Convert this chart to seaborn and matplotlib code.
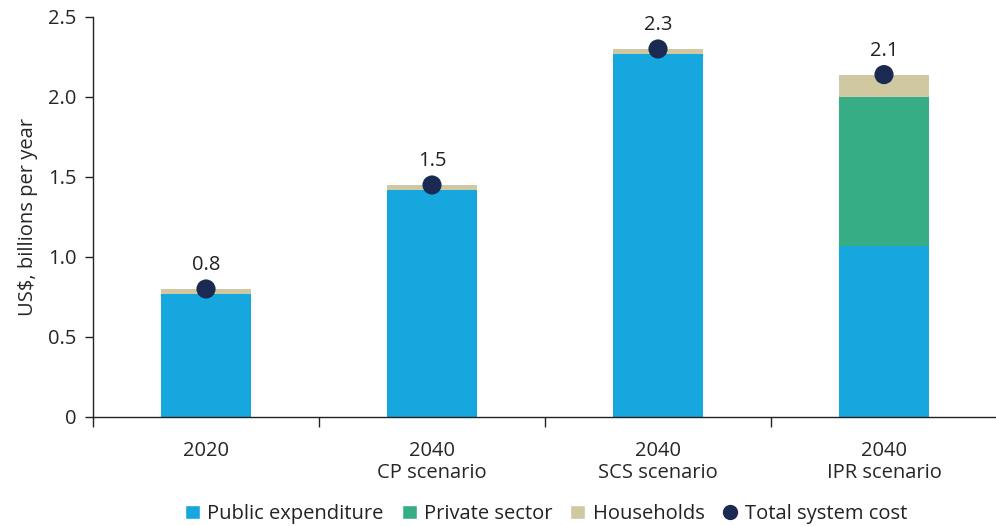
import matplotlib
matplotlib.use("Agg")
import matplotlib.pyplot as plt
import numpy as np
import seaborn as sns
from matplotlib.lines import Line2D
from matplotlib.patches import Patch

categories = ["2020\n", "2040\nCP scenario", "2040\nSCS scenario", "2040\nIPR scenario"]
public = [0.77, 1.42, 2.27, 1.07]
private = [0.0, 0.0, 0.0, 0.93]
households = [0.03, 0.03, 0.03, 0.14]
totals = [0.80, 1.45, 2.30, 2.14]
total_labels = ["0.8", "1.5", "2.3", "2.1"]
y_ticks = [0, 0.5, 1.0, 1.5, 2.0, 2.5]
y_ticklabels = ["0", "0.5", "1.0", "1.5", "2.0", "2.5"]

C_PUBLIC = "#16a7df"
C_PRIVATE = "#37ad85"
C_HOUSE = "#cfc8a0"
C_DOT = "#1b2a52"
FS = 14.5

sns.set_theme(style="white")
plt.rcParams["font.family"] = ["Open Sans", "DejaVu Sans"]
plt.rcParams["text.color"] = "#222222"

fig = plt.figure(figsize=(9.96, 5.26), dpi=100)
ax = fig.add_axes([93 / 996, (526 - 417) / 526, 904 / 996, 400 / 526])

pub = np.array(public)
priv = np.array(private)
x = np.arange(len(categories))

bar_kw = dict(width=0.4, saturation=1, linewidth=0, ax=ax)
sns.barplot(x=x, y=public, color=C_PUBLIC, **bar_kw)
sns.barplot(x=x, y=private, bottom=pub, color=C_PRIVATE, **bar_kw)
sns.barplot(x=x, y=households, bottom=pub + priv, color=C_HOUSE, **bar_kw)
sns.scatterplot(x=x, y=totals, color=C_DOT, s=190, edgecolor="none", zorder=5, ax=ax)

for xi, t, lab in zip(x, totals, total_labels):
    ax.annotate(lab, (xi, t), xytext=(0, 10), textcoords="offset points",
                ha="center", va="bottom", fontsize=FS, color="#222222")

ax.set_xlim(-0.5, 3.5)
ax.set_ylim(0, 2.5)
ax.set_xticks(x)
ax.set_xticklabels(categories, fontsize=FS, linespacing=1.15)
ax.set_xticks([-0.5, 0.5, 1.5, 2.5], minor=True)
ax.tick_params(axis="x", which="major", length=0, pad=17)
ax.tick_params(axis="x", which="minor", length=7, width=1, color="#222222", direction="out", bottom=True)
ax.set_yticks(y_ticks)
ax.set_yticklabels(y_ticklabels, fontsize=FS)
ax.tick_params(axis="y", length=6, width=1, color="#222222", direction="out", left=True, pad=6)
ax.set_ylabel("US$, billions per year", fontsize=FS, labelpad=7)
ax.set_xlabel("")

for side in ["top", "right"]:
    ax.spines[side].set_visible(False)
for side in ["left", "bottom"]:
    ax.spines[side].set_color("#222222")
    ax.spines[side].set_linewidth(1)

handles = [
    Patch(facecolor=C_PUBLIC, label="Public expenditure"),
    Patch(facecolor=C_PRIVATE, label="Private sector"),
    Patch(facecolor=C_HOUSE, label="Households"),
    Line2D([], [], marker="o", linestyle="none", color=C_DOT, markersize=10, label="Total system cost"),
]
fig.legend(handles=handles, loc="center", bbox_to_anchor=(546 / 996, 1 - 514 / 526), ncol=4,
           frameon=False, fontsize=FS, handlelength=0.75, handleheight=0.75,
           handletextpad=0.35, columnspacing=0.9)

fig.savefig("out.png", dpi=100)
